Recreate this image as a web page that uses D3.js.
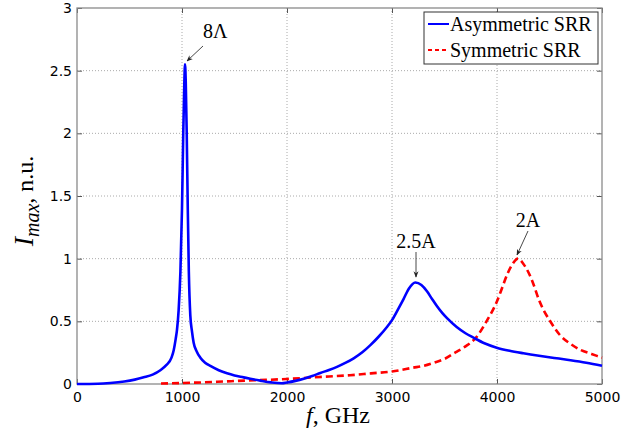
<!DOCTYPE html>
<html>
<head>
<meta charset="utf-8">
<script src="https://cdn.jsdelivr.net/npm/d3@7"></script>
<style>
  html, body { margin: 0; padding: 0; background: #fff; }
  svg { display: block; }
</style>
</head>
<body>
<svg id="chart" width="633" height="434"></svg>
<script>
// ---------------- data ----------------
const asymFreq = [0, 200, 317, 450, 550, 635, 720, 794, 850, 900, 921, 940, 952, 968, 985, 1000, 1012, 1022, 1029, 1036, 1045, 1055, 1065, 1079, 1095, 1111, 1140, 1175, 1220, 1270, 1350, 1429, 1500, 1587, 1650, 1746, 1850, 1950, 2000, 2080, 2159, 2240, 2317, 2400, 2476, 2560, 2635, 2720, 2794, 2870, 2952, 3000, 3060, 3111, 3160, 3222, 3280, 3333, 3380, 3429, 3480, 3524, 3616, 3700, 3775, 3880, 3997, 4120, 4251, 4400, 4568, 4700, 4850, 5000];
const asymVal  = [0, 0.002, 0.008, 0.02, 0.035, 0.053, 0.075, 0.11, 0.15, 0.21, 0.27, 0.36, 0.43, 0.59, 0.9, 1.4, 2.0, 2.4, 2.55, 2.4, 2.0, 1.4, 0.9, 0.55, 0.42, 0.33, 0.26, 0.21, 0.17, 0.144, 0.11, 0.085, 0.068, 0.053, 0.042, 0.027, 0.013, 0.006, 0.012, 0.025, 0.042, 0.064, 0.088, 0.112, 0.137, 0.17, 0.205, 0.255, 0.31, 0.375, 0.455, 0.51, 0.6, 0.68, 0.76, 0.81, 0.79, 0.74, 0.68, 0.62, 0.565, 0.525, 0.455, 0.405, 0.37, 0.325, 0.29, 0.265, 0.245, 0.225, 0.205, 0.19, 0.17, 0.145];

const symFreq = [800, 1000, 1200, 1400, 1600, 1800, 2000, 2200, 2400, 2600, 2800, 3000, 3200, 3300, 3400, 3500, 3600, 3700, 3800, 3900, 4000, 4050, 4100, 4150, 4200, 4250, 4300, 4350, 4400, 4450, 4500, 4600, 4700, 4800, 4900, 5000];
const symVal  = [0.004, 0.008, 0.013, 0.02, 0.027, 0.033, 0.04, 0.05, 0.06, 0.07, 0.085, 0.1, 0.13, 0.145, 0.17, 0.2, 0.25, 0.3, 0.37, 0.5, 0.66, 0.77, 0.88, 0.96, 1.0, 0.96, 0.89, 0.79, 0.67, 0.58, 0.51, 0.39, 0.32, 0.27, 0.24, 0.21];

const xTicks = [0, 1000, 2000, 3000, 4000, 5000];
const yTicks = [0, 0.5, 1, 1.5, 2, 2.5, 3];
const seriesNames = ["Asymmetric SRR", "Symmetric SRR"];
const annotLabels = ["8\u039B", "2.5A", "2A"];

// ---------------- layout ----------------
const svg = d3.select("#chart");
const L = 77, R = 602, T = 8, B = 384;
const x = d3.scaleLinear().domain([0, 5000]).range([L, R]);
const y = d3.scaleLinear().domain([0, 3]).range([B, T]);

// grid
const grid = svg.append("g");
grid.selectAll(".gx").data(xTicks.slice(1, -1)).enter().append("line")
  .attr("x1", d => x(d)).attr("x2", d => x(d)).attr("y1", T).attr("y2", B)
  .attr("stroke", "#aaa").attr("stroke-width", 1).attr("stroke-dasharray", "1,2");
grid.selectAll(".gy").data(yTicks.slice(1, -1)).enter().append("line")
  .attr("y1", d => y(d)).attr("y2", d => y(d)).attr("x1", L).attr("x2", R)
  .attr("stroke", "#aaa").attr("stroke-width", 1).attr("stroke-dasharray", "1,2");

// axes
const fontTick = "'DejaVu Sans', Verdana, sans-serif";
const xAxis = d3.axisBottom(x).tickValues(xTicks).tickSize(-5).tickPadding(8).tickFormat(d3.format("d"));
const yAxis = d3.axisLeft(y).tickValues(yTicks).tickSize(-5).tickPadding(5).tickFormat(d => String(d));
const gx = svg.append("g").attr("transform", `translate(0,${B})`).call(xAxis);
const gy = svg.append("g").attr("transform", `translate(${L},0)`).call(yAxis);
const gxTop = svg.append("g").attr("transform", `translate(0,${T})`).call(d3.axisTop(x).tickValues(xTicks).tickSize(-5).tickFormat(""));
const gyRight = svg.append("g").attr("transform", `translate(${R},0)`).call(d3.axisRight(y).tickValues(yTicks).tickSize(-5).tickFormat(""));
[gx, gy, gxTop, gyRight].forEach(g => {
  g.select(".domain").remove();
  g.selectAll(".tick line").attr("stroke", "#555");
  g.selectAll("text").attr("font-family", fontTick).attr("font-size", 14).attr("fill", "#000");
});
gx.selectAll("text").attr("dy", "0.71em");

// frame
svg.append("rect").attr("x", L).attr("y", T).attr("width", R - L).attr("height", B - T)
  .attr("fill", "none").attr("stroke", "#8a8a8a").attr("stroke-width", 1.3);

// lines
const asym = asymFreq.map((f, i) => [f, asymVal[i]]);
const sym = symFreq.map((f, i) => [f, symVal[i]]);
const line = d3.line().x(d => x(d[0])).y(d => y(d[1])).curve(d3.curveMonotoneX);
svg.append("path").datum(sym).attr("d", line).attr("fill", "none")
  .attr("stroke", "#ff0000").attr("stroke-width", 2.6).attr("stroke-dasharray", "7,4");
svg.append("path").datum(asym).attr("d", line).attr("fill", "none")
  .attr("stroke", "#0000ff").attr("stroke-width", 2.6).attr("stroke-linejoin", "round");

// annotations
const serif = "'Liberation Serif', 'Times New Roman', serif";
const defs = svg.append("defs");
defs.append("marker").attr("id", "ah").attr("viewBox", "0 0 10 10").attr("refX", 9).attr("refY", 5)
  .attr("markerWidth", 7).attr("markerHeight", 7).attr("orient", "auto")
  .append("path").attr("d", "M0,1 L10,5 L0,9 L3,5 Z").attr("fill", "#222");
const annotText = [[203, 38, "start"], [416, 248, "middle"], [528, 227, "middle"]];
const annotStart = [[203, 46], [416, 252], [528, 231]];
const annotEnd = [[187, 61], [416, 277], [517, 255]];
annotLabels.forEach((lab, i) => {
  svg.append("text").attr("x", annotText[i][0]).attr("y", annotText[i][1])
    .attr("text-anchor", annotText[i][2]).attr("font-family", serif).attr("font-size", 20).text(lab);
  svg.append("line").attr("x1", annotStart[i][0]).attr("y1", annotStart[i][1])
    .attr("x2", annotEnd[i][0]).attr("y2", annotEnd[i][1])
    .attr("stroke", "#333").attr("stroke-width", 0.9).attr("marker-end", "url(#ah)");
});

// legend
const lg = svg.append("g");
lg.append("rect").attr("x", 424).attr("y", 12).attr("width", 174).attr("height", 52)
  .attr("fill", "#fff").attr("stroke", "#333").attr("stroke-width", 1);
lg.append("line").attr("x1", 428).attr("x2", 449).attr("y1", 24).attr("y2", 24)
  .attr("stroke", "#0000ff").attr("stroke-width", 2);
lg.append("line").attr("x1", 428).attr("x2", 449).attr("y1", 50).attr("y2", 50)
  .attr("stroke", "#ff0000").attr("stroke-width", 2).attr("stroke-dasharray", "4,3");
lg.append("text").attr("x", 450).attr("y", 31).attr("font-family", serif).attr("font-size", 20).text(seriesNames[0]);
lg.append("text").attr("x", 450).attr("y", 57).attr("font-family", serif).attr("font-size", 20).text(seriesNames[1]);

// axis titles
const xt = svg.append("text").attr("x", 338).attr("y", 423).attr("text-anchor", "middle")
  .attr("font-family", serif).attr("font-size", 24);
xt.append("tspan").attr("font-style", "italic").text("f");
xt.append("tspan").text(", GHz");

const yt = svg.append("text").attr("transform", "translate(33,201) rotate(-90)").attr("text-anchor", "middle")
  .attr("font-family", serif).attr("font-size", 24);
yt.append("tspan").attr("font-style", "italic").attr("font-size", 28).text("I");
yt.append("tspan").attr("font-style", "italic").attr("font-size", 20).attr("dy", 6).text("max");
yt.append("tspan").attr("dy", -6).text(", n.u.");
</script>
</body>
</html>
